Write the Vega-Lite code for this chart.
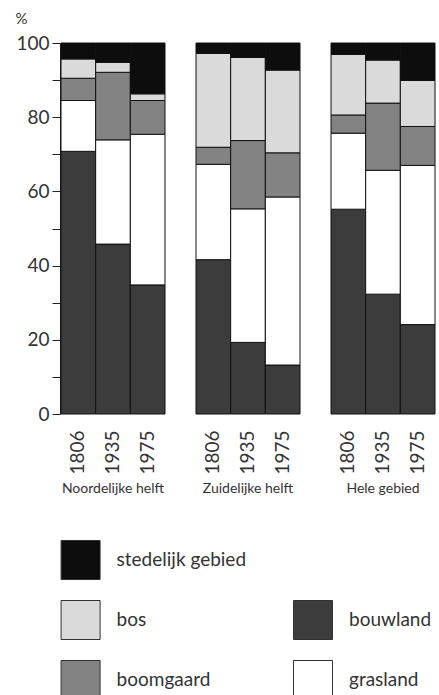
{
  "$schema": "https://vega.github.io/schema/vega-lite/v6.json",
  "background": "white",
  "padding": {"left": 15, "top": 11, "right": 0, "bottom": 0},
  "config": {
    "view": {"stroke": null},
    "font": "Lato",
    "text": {"color": "#333"}
  },
  "spacing": 41,
  "vconcat": [
    {
      "data": {
        "values": [
          {"region": "Noordelijke helft", "year": "1806", "cat": "bouwland", "pct": 70.8},
          {"region": "Noordelijke helft", "year": "1806", "cat": "grasland", "pct": 13.7},
          {"region": "Noordelijke helft", "year": "1806", "cat": "boomgaard", "pct": 6.0},
          {"region": "Noordelijke helft", "year": "1806", "cat": "bos", "pct": 5.2},
          {"region": "Noordelijke helft", "year": "1806", "cat": "stedelijk gebied", "pct": 4.3},
          {"region": "Noordelijke helft", "year": "1935", "cat": "bouwland", "pct": 45.8},
          {"region": "Noordelijke helft", "year": "1935", "cat": "grasland", "pct": 28.1},
          {"region": "Noordelijke helft", "year": "1935", "cat": "boomgaard", "pct": 18.2},
          {"region": "Noordelijke helft", "year": "1935", "cat": "bos", "pct": 2.7},
          {"region": "Noordelijke helft", "year": "1935", "cat": "stedelijk gebied", "pct": 5.2},
          {"region": "Noordelijke helft", "year": "1975", "cat": "bouwland", "pct": 34.8},
          {"region": "Noordelijke helft", "year": "1975", "cat": "grasland", "pct": 40.6},
          {"region": "Noordelijke helft", "year": "1975", "cat": "boomgaard", "pct": 9.1},
          {"region": "Noordelijke helft", "year": "1975", "cat": "bos", "pct": 1.8},
          {"region": "Noordelijke helft", "year": "1975", "cat": "stedelijk gebied", "pct": 13.7},
          {"region": "Zuidelijke helft", "year": "1806", "cat": "bouwland", "pct": 41.6},
          {"region": "Zuidelijke helft", "year": "1806", "cat": "grasland", "pct": 25.7},
          {"region": "Zuidelijke helft", "year": "1806", "cat": "boomgaard", "pct": 4.6},
          {"region": "Zuidelijke helft", "year": "1806", "cat": "bos", "pct": 25.3},
          {"region": "Zuidelijke helft", "year": "1806", "cat": "stedelijk gebied", "pct": 2.8},
          {"region": "Zuidelijke helft", "year": "1935", "cat": "bouwland", "pct": 19.3},
          {"region": "Zuidelijke helft", "year": "1935", "cat": "grasland", "pct": 36.0},
          {"region": "Zuidelijke helft", "year": "1935", "cat": "boomgaard", "pct": 18.4},
          {"region": "Zuidelijke helft", "year": "1935", "cat": "bos", "pct": 22.4},
          {"region": "Zuidelijke helft", "year": "1935", "cat": "stedelijk gebied", "pct": 3.9},
          {"region": "Zuidelijke helft", "year": "1975", "cat": "bouwland", "pct": 13.2},
          {"region": "Zuidelijke helft", "year": "1975", "cat": "grasland", "pct": 45.3},
          {"region": "Zuidelijke helft", "year": "1975", "cat": "boomgaard", "pct": 11.9},
          {"region": "Zuidelijke helft", "year": "1975", "cat": "bos", "pct": 22.3},
          {"region": "Zuidelijke helft", "year": "1975", "cat": "stedelijk gebied", "pct": 7.3},
          {"region": "Hele gebied", "year": "1806", "cat": "bouwland", "pct": 55.2},
          {"region": "Hele gebied", "year": "1806", "cat": "grasland", "pct": 20.5},
          {"region": "Hele gebied", "year": "1806", "cat": "boomgaard", "pct": 4.9},
          {"region": "Hele gebied", "year": "1806", "cat": "bos", "pct": 16.3},
          {"region": "Hele gebied", "year": "1806", "cat": "stedelijk gebied", "pct": 3.1},
          {"region": "Hele gebied", "year": "1935", "cat": "bouwland", "pct": 32.3},
          {"region": "Hele gebied", "year": "1935", "cat": "grasland", "pct": 33.4},
          {"region": "Hele gebied", "year": "1935", "cat": "boomgaard", "pct": 18.1},
          {"region": "Hele gebied", "year": "1935", "cat": "bos", "pct": 11.6},
          {"region": "Hele gebied", "year": "1935", "cat": "stedelijk gebied", "pct": 4.6},
          {"region": "Hele gebied", "year": "1975", "cat": "bouwland", "pct": 24.1},
          {"region": "Hele gebied", "year": "1975", "cat": "grasland", "pct": 42.9},
          {"region": "Hele gebied", "year": "1975", "cat": "boomgaard", "pct": 10.5},
          {"region": "Hele gebied", "year": "1975", "cat": "bos", "pct": 12.4},
          {"region": "Hele gebied", "year": "1975", "cat": "stedelijk gebied", "pct": 10.1}
        ]
      },
      "transform": [
        {"calculate": "indexof(['bouwland','grasland','boomgaard','bos','stedelijk gebied'], datum.cat)", "as": "stackorder"}
      ],
      "facet": {
        "column": {
          "field": "region",
          "type": "nominal",
          "sort": ["Noordelijke helft", "Zuidelijke helft", "Hele gebied"],
          "header": {
            "title": null,
            "labelOrient": "bottom",
            "labelFontSize": 14,
            "labelColor": "#333",
            "labelFont": "Lato",
            "labelPadding": 8
          }
        }
      },
      "spacing": 29,
      "spec": {
        "width": 104,
        "height": 371,
        "mark": {"type": "bar", "stroke": "#111", "strokeWidth": 1},
        "encoding": {
          "x": {
            "field": "year",
            "type": "ordinal",
            "scale": {"paddingInner": 0, "paddingOuter": 0},
            "axis": {
              "title": null,
              "labelAngle": -90,
              "labelAlign": "right",
              "labelBaseline": "middle",
              "ticks": false,
              "domain": false,
              "labelFontSize": 19,
              "labelColor": "#333",
              "labelPadding": 15
            }
          },
          "y": {
            "field": "pct",
            "type": "quantitative",
            "stack": "zero",
            "scale": {"domain": [0, 100], "nice": false},
            "axis": {
              "values": [0, 10, 20, 30, 40, 50, 60, 70, 80, 90, 100],
              "labelExpr": "datum.value % 20 == 0 ? datum.label : ''",
              "grid": false,
              "tickSize": 8,
              "tickColor": "#222",
              "domainColor": "#222",
              "labelFontSize": 19,
              "labelColor": "#333",
              "labelPadding": 3,
              "title": "%",
              "titleAngle": 0,
              "titleAlign": "left",
              "titleBaseline": "bottom",
              "titleX": -45,
              "titleY": -17,
              "titleFontSize": 15,
              "titleFontWeight": "normal",
              "titleColor": "#333"
            }
          },
          "color": {
            "field": "cat",
            "type": "nominal",
            "scale": {
              "domain": ["bouwland", "grasland", "boomgaard", "bos", "stedelijk gebied"],
              "range": ["#3c3c3c", "#ffffff", "#838383", "#dadada", "#0d0d0d"]
            },
            "legend": null
          },
          "order": {"field": "stackorder", "type": "quantitative", "sort": "ascending"}
        }
      }
    },
    {
      "data": {
        "values": [
          {"cat": "stedelijk gebied", "col": 0, "row": 0},
          {"cat": "bos", "col": 0, "row": 1},
          {"cat": "boomgaard", "col": 0, "row": 2},
          {"cat": "bouwland", "col": 1, "row": 1},
          {"cat": "grasland", "col": 1, "row": 2}
        ]
      },
      "width": 252,
      "height": 120,
      "encoding": {
        "x": {"field": "col", "type": "quantitative", "scale": {"domain": [-0.0843, 1], "nice": false, "zero": false}, "axis": null},
        "y": {"field": "row", "type": "quantitative", "scale": {"domain": [0, 2], "reverse": true, "nice": false}, "axis": null}
      },
      "layer": [
        {
          "mark": {"type": "square", "size": 1521, "filled": true, "opacity": 1, "stroke": "#333", "strokeWidth": 1},
          "encoding": {
            "color": {
              "field": "cat",
              "type": "nominal",
              "scale": {
                "domain": ["bouwland", "grasland", "boomgaard", "bos", "stedelijk gebied"],
                "range": ["#3c3c3c", "#ffffff", "#838383", "#dadada", "#0d0d0d"]
              },
              "legend": null
            }
          }
        },
        {
          "mark": {"type": "text", "align": "left", "baseline": "middle", "dx": 36, "fontSize": 19, "color": "#333"},
          "encoding": {"text": {"field": "cat"}}
        }
      ]
    }
  ]
}
